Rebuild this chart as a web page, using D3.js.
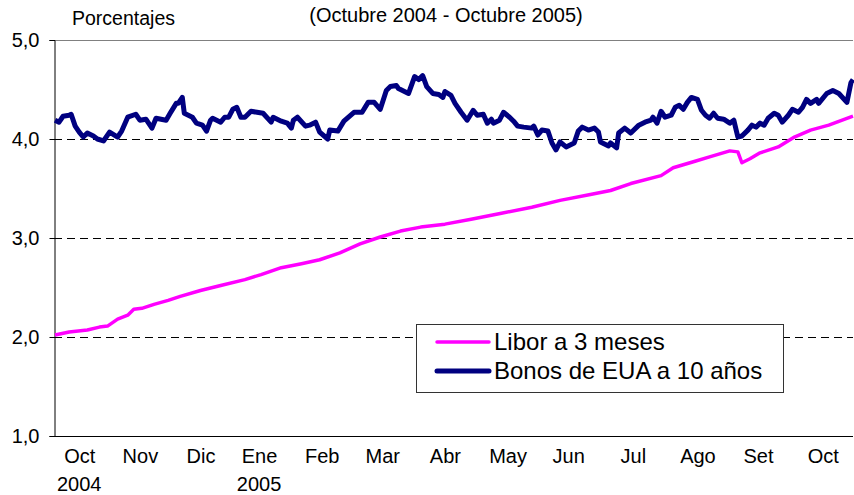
<!DOCTYPE html>
<html>
<head>
<meta charset="utf-8">
<script src="https://cdn.jsdelivr.net/npm/d3@7"></script>
<style>
  body { margin: 0; background: #fff; }
  svg text { font-family: "Liberation Sans", Arial, sans-serif; fill: #000; }
</style>
</head>
<body>
<div id="chart"></div>
<script>
// Datos (Octubre 2004 - Octubre 2005)
const libor = [
  ["2004-10-01", 2.02], ["2004-10-08", 2.05], ["2004-10-17", 2.07], ["2004-10-23", 2.10],
  ["2004-10-27", 2.11], ["2004-11-01", 2.18], ["2004-11-06", 2.22], ["2004-11-09", 2.28],
  ["2004-11-13", 2.29], ["2004-11-19", 2.33], ["2004-11-26", 2.37], ["2004-12-02", 2.41],
  ["2004-12-12", 2.47], ["2004-12-22", 2.52], ["2005-01-03", 2.58], ["2005-01-11", 2.63],
  ["2005-01-21", 2.70], ["2005-01-31", 2.74], ["2005-02-09", 2.78], ["2005-02-19", 2.85],
  ["2005-03-01", 2.94], ["2005-03-11", 3.01], ["2005-03-21", 3.07], ["2005-03-31", 3.11],
  ["2005-04-12", 3.14], ["2005-04-25", 3.19], ["2005-05-10", 3.25], ["2005-05-25", 3.31],
  ["2005-06-08", 3.38], ["2005-06-23", 3.44], ["2005-07-03", 3.48], ["2005-07-13", 3.55],
  ["2005-07-28", 3.63], ["2005-08-03", 3.71], ["2005-08-13", 3.77], ["2005-08-21", 3.82],
  ["2005-08-31", 3.88], ["2005-09-04", 3.87], ["2005-09-06", 3.76], ["2005-09-10", 3.80],
  ["2005-09-15", 3.86], ["2005-09-24", 3.92], ["2005-10-02", 4.02], ["2005-10-10", 4.09],
  ["2005-10-19", 4.14], ["2005-10-27", 4.20], ["2005-10-31", 4.23]
];

const bonos = [
  ["2004-10-01", 4.19], ["2004-10-03", 4.17], ["2004-10-05", 4.23], ["2004-10-08", 4.24],
  ["2004-10-09", 4.25], ["2004-10-11", 4.13], ["2004-10-13", 4.07], ["2004-10-15", 4.02],
  ["2004-10-17", 4.06], ["2004-10-20", 4.03], ["2004-10-22", 4.00], ["2004-10-25", 3.98],
  ["2004-10-28", 4.07], ["2004-11-01", 4.02], ["2004-11-03", 4.08], ["2004-11-06", 4.22],
  ["2004-11-10", 4.25], ["2004-11-12", 4.19], ["2004-11-15", 4.20], ["2004-11-18", 4.11],
  ["2004-11-20", 4.21], ["2004-11-25", 4.19], ["2004-11-27", 4.26], ["2004-11-30", 4.36],
  ["2004-12-01", 4.36], ["2004-12-03", 4.42], ["2004-12-04", 4.26], ["2004-12-08", 4.22],
  ["2004-12-10", 4.16], ["2004-12-13", 4.14], ["2004-12-15", 4.08], ["2004-12-17", 4.19],
  ["2004-12-18", 4.21], ["2004-12-22", 4.17], ["2004-12-24", 4.22], ["2004-12-26", 4.22],
  ["2004-12-28", 4.30], ["2004-12-30", 4.32], ["2005-01-01", 4.22], ["2005-01-03", 4.22],
  ["2005-01-06", 4.28], ["2005-01-09", 4.27], ["2005-01-12", 4.26], ["2005-01-16", 4.17],
  ["2005-01-17", 4.22], ["2005-01-21", 4.18], ["2005-01-24", 4.16], ["2005-01-26", 4.11],
  ["2005-01-27", 4.19], ["2005-01-29", 4.22], ["2005-02-02", 4.13], ["2005-02-04", 4.14],
  ["2005-02-07", 4.17], ["2005-02-09", 4.07], ["2005-02-13", 4.00], ["2005-02-14", 4.09],
  ["2005-02-18", 4.08], ["2005-02-21", 4.18], ["2005-02-26", 4.27], ["2005-03-02", 4.27],
  ["2005-03-05", 4.37], ["2005-03-08", 4.37], ["2005-03-11", 4.30], ["2005-03-14", 4.49],
  ["2005-03-16", 4.53], ["2005-03-19", 4.54], ["2005-03-20", 4.51], ["2005-03-25", 4.46],
  ["2005-03-28", 4.63], ["2005-03-30", 4.60], ["2005-04-01", 4.64], ["2005-04-03", 4.53],
  ["2005-04-06", 4.46], ["2005-04-09", 4.45], ["2005-04-11", 4.42], ["2005-04-12", 4.48],
  ["2005-04-15", 4.44], ["2005-04-17", 4.36], ["2005-04-20", 4.27], ["2005-04-23", 4.19],
  ["2005-04-26", 4.29], ["2005-04-28", 4.24], ["2005-05-01", 4.25], ["2005-05-03", 4.16],
  ["2005-05-05", 4.20], ["2005-05-06", 4.16], ["2005-05-09", 4.19], ["2005-05-11", 4.27],
  ["2005-05-14", 4.22], ["2005-05-16", 4.18], ["2005-05-18", 4.13], ["2005-05-21", 4.12],
  ["2005-05-25", 4.11], ["2005-05-26", 4.13], ["2005-05-28", 4.04], ["2005-05-30", 4.09],
  ["2005-06-02", 4.08], ["2005-06-04", 3.96], ["2005-06-06", 3.89], ["2005-06-08", 3.97],
  ["2005-06-11", 3.92], ["2005-06-13", 3.94], ["2005-06-15", 3.96], ["2005-06-17", 4.08],
  ["2005-06-19", 4.12], ["2005-06-22", 4.09], ["2005-06-25", 4.11], ["2005-06-27", 4.07],
  ["2005-06-28", 3.97], ["2005-07-02", 3.93], ["2005-07-03", 3.96], ["2005-07-06", 3.91],
  ["2005-07-07", 4.06], ["2005-07-10", 4.11], ["2005-07-13", 4.06], ["2005-07-17", 4.14],
  ["2005-07-20", 4.17], ["2005-07-23", 4.19], ["2005-07-24", 4.22], ["2005-07-26", 4.16],
  ["2005-07-28", 4.28], ["2005-07-30", 4.22], ["2005-08-02", 4.24], ["2005-08-04", 4.32],
  ["2005-08-06", 4.34], ["2005-08-08", 4.30], ["2005-08-10", 4.37], ["2005-08-12", 4.42],
  ["2005-08-15", 4.40], ["2005-08-17", 4.29], ["2005-08-19", 4.24], ["2005-08-21", 4.21],
  ["2005-08-23", 4.26], ["2005-08-25", 4.21], ["2005-08-28", 4.20], ["2005-08-31", 4.16],
  ["2005-09-02", 4.19], ["2005-09-04", 4.02], ["2005-09-06", 4.03], ["2005-09-09", 4.09],
  ["2005-09-11", 4.14], ["2005-09-13", 4.12], ["2005-09-15", 4.16], ["2005-09-17", 4.14],
  ["2005-09-19", 4.21], ["2005-09-22", 4.26], ["2005-09-24", 4.24], ["2005-09-26", 4.17],
  ["2005-09-29", 4.24], ["2005-10-01", 4.30], ["2005-10-04", 4.27], ["2005-10-06", 4.32],
  ["2005-10-08", 4.40], ["2005-10-10", 4.36], ["2005-10-13", 4.40], ["2005-10-14", 4.36],
  ["2005-10-18", 4.46], ["2005-10-21", 4.49], ["2005-10-24", 4.46], ["2005-10-28", 4.37],
  ["2005-10-30", 4.57], ["2005-10-31", 4.60]
];

// etiquetas del eje X (posición de cada mes) y años
const meses = ["Oct", "Nov", "Dic", "Ene", "Feb", "Mar", "Abr", "May", "Jun", "Jul", "Ago", "Set", "Oct"];
const mesesFechas = ["2004-10-13", "2004-11-12", "2004-12-12", "2005-01-10", "2005-02-10", "2005-03-12",
  "2005-04-12", "2005-05-13", "2005-06-12", "2005-07-14", "2005-08-15", "2005-09-14", "2005-10-16"];
const anios = [["2004-10-13", "2004"], ["2005-01-10", "2005"]];
const yTicks = [1, 2, 3, 4, 5];
const series = [
  { nombre: "Libor a 3 meses", datos: libor, color: "#ff00ff", ancho: 3.5 },
  { nombre: "Bonos de EUA a 10 años", datos: bonos, color: "#000080", ancho: 5 }
];

const parse = d3.timeParse("%Y-%m-%d");
const width = 854, height = 495;
const margin = { top: 40, right: 1, bottom: 59, left: 54 };

const svg = d3.select("#chart").append("svg")
  .attr("width", width)
  .attr("height", height);

const x = d3.scaleTime()
  .domain([parse("2004-10-01"), parse("2005-10-31")])
  .range([margin.left + 1, width - margin.right]);

const y = d3.scaleLinear()
  .domain([1, 5])
  .range([height - margin.bottom, margin.top]);

// líneas de referencia
svg.append("g")
  .selectAll("line")
  .data(yTicks.filter(d => d > 1 && d < 5))
  .enter().append("line")
  .attr("x1", margin.left).attr("x2", width - margin.right)
  .attr("y1", d => y(d) + 0.5).attr("y2", d => y(d) + 0.5)
  .attr("stroke", "#000")
  .attr("stroke-dasharray", "8,5");

svg.append("line")
  .attr("x1", margin.left).attr("x2", width - margin.right)
  .attr("y1", y(5) + 0.5).attr("y2", y(5) + 0.5)
  .attr("stroke", "#808080");

// eje Y
const yAxis = svg.append("g")
  .attr("transform", `translate(${margin.left + 0.5},0)`)
  .call(d3.axisLeft(y).tickValues(yTicks).tickSize(5).tickPadding(10)
    .tickFormat(d => d3.format(".1f")(d).replace(".", ",")));
yAxis.select(".domain").attr("stroke", "#000");
yAxis.selectAll("text").style("font-size", "20px");

// eje X
const xAxis = svg.append("g")
  .attr("transform", `translate(0,${y(1) + 0.5})`)
  .call(d3.axisBottom(x).tickValues(mesesFechas.map(parse)).tickSize(0).tickPadding(12)
    .tickFormat((d, i) => meses[i]));
xAxis.select(".domain").attr("stroke", "#000").attr("d", `M${margin.left},0H${width - margin.right}`);
xAxis.selectAll("text").style("font-size", "20px");

svg.append("g")
  .selectAll("text")
  .data(anios)
  .enter().append("text")
  .attr("x", d => x(parse(d[0])))
  .attr("y", 491)
  .attr("text-anchor", "middle")
  .style("font-size", "20px")
  .text(d => d[1]);

// series
const line = d3.line()
  .x(d => x(parse(d[0])))
  .y(d => y(d[1]));

svg.append("g")
  .selectAll("path")
  .data(series)
  .enter().append("path")
  .attr("fill", "none")
  .attr("stroke", d => d.color)
  .attr("stroke-width", d => d.ancho)
  .attr("stroke-linejoin", "round")
  .attr("d", d => line(d.datos));

// títulos
svg.append("text")
  .attr("x", 72).attr("y", 25)
  .style("font-size", "19.5px")
  .text("Porcentajes");

svg.append("text")
  .attr("x", 446).attr("y", 22)
  .attr("text-anchor", "middle")
  .style("font-size", "20px")
  .text("(Octubre 2004 - Octubre 2005)");

// leyenda
const legend = svg.append("g")
  .attr("transform", "translate(416,324)");

legend.append("rect")
  .attr("x", 0.5).attr("y", 0.5)
  .attr("width", 367).attr("height", 68)
  .attr("fill", "#fff")
  .attr("stroke", "#333");

const item = legend.selectAll(".item")
  .data(series)
  .enter().append("g")
  .attr("class", "item")
  .attr("transform", (d, i) => `translate(0,${18 + i * 29})`);

item.append("line")
  .attr("x1", 21).attr("x2", 73)
  .attr("stroke", d => d.color)
  .attr("stroke-width", d => d.ancho)
  .attr("stroke-linecap", "round");

item.append("text")
  .attr("x", 78).attr("y", 8)
  .style("font-size", "24px")
  .text(d => d.nombre);
</script>
</body>
</html>
